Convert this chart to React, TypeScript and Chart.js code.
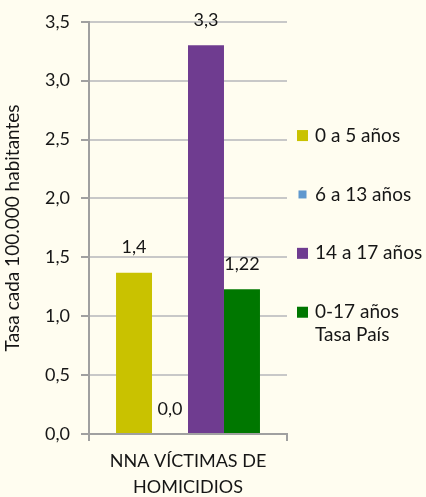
import React, { useEffect, useRef } from "react";
import { Chart, registerables } from "chart.js";

Chart.register(...registerables);

const categoryLines = [["NNA VÍCTIMAS DE", "HOMICIDIOS"]];
const seriesNames = [["0 a 5 años"], ["6 a 13 años"], ["14 a 17 años"], ["0-17 años", "Tasa País"]];
const seriesValues = [1.37, 0, 3.3, 1.23];
const valueLabels = ["1,4", "0,0", "3,3", "1,22"];
const seriesColors = ["#C9C200", "#5F98CE", "#6F3C90", "#007700"];
const yTickValues = [0, 0.5, 1, 1.5, 2, 2.5, 3, 3.5];
const yTitle = "Tasa cada 100.000 habitantes";

const FONT = "Lato, 'Open Sans', sans-serif";
const TEXT = "#161616";

const labelsPlugin = {
  id: "valueLabels",
  afterDatasetsDraw(chart: any) {
    const ctx = chart.ctx;
    ctx.save();
    ctx.font = `18px ${FONT}`;
    ctx.fillStyle = TEXT;
    ctx.textAlign = "center";
    ctx.textBaseline = "middle";
    chart.data.datasets.forEach((ds: any, i: number) => {
      const meta = chart.getDatasetMeta(i);
      meta.data.forEach((bar: any) => {
        ctx.fillText(valueLabels[i], bar.x, bar.y - 25);
      });
    });
    ctx.restore();
  },
};

const legendPlugin = {
  id: "sideLegend",
  afterDraw(chart: any) {
    const ctx = chart.ctx;
    const yScale = chart.scales.y;
    const anchors = [2.5, 2.0, 1.5, 1.0];
    ctx.save();
    ctx.font = `19px ${FONT}`;
    ctx.fillStyle = TEXT;
    ctx.textAlign = "left";
    ctx.textBaseline = "middle";
    seriesNames.forEach((lines, i) => {
      const yc = yScale.getPixelForValue(anchors[i]) - 4;
      const size = i === 1 ? 8 : 11;
      ctx.fillStyle = seriesColors[i];
      ctx.fillRect(302.5 - size / 2, yc - size / 2, size, size);
      ctx.fillStyle = TEXT;
      lines.forEach((t, j) => {
        ctx.fillText(t, 315, yc + j * 23);
      });
    });
    ctx.restore();
  },
};

export default function App() {
  const ref = useRef<HTMLCanvasElement | null>(null);

  useEffect(() => {
    if (!ref.current) return;
    const chart = new Chart(ref.current, {
      type: "bar",
      data: {
        labels: ["c0"],
        datasets: seriesNames.map((n, i) => ({
          label: n.join(" "),
          data: [seriesValues[i]],
          backgroundColor: seriesColors[i],
          borderWidth: 0,
          categoryPercentage: 0.727,
          barPercentage: 1,
        })),
      },
      options: {
        animation: false,
        responsive: false,
        maintainAspectRatio: false,
        layout: { padding: { top: 19, right: 139, bottom: 0, left: 0 } },
        plugins: {
          legend: { display: false },
          tooltip: { enabled: false },
        },
        scales: {
          x: {
            grid: {
              drawOnChartArea: false,
              drawTicks: true,
              tickLength: 7,
              color: "#A0A0A0",
              lineWidth: 2,
            },
            border: { color: "#A0A0A0", width: 2 },
            ticks: {
              font: { family: FONT, size: 18, lineHeight: 1.4 },
              color: TEXT,
              padding: 8,
              callback: (_v: any, i: number) => categoryLines[i],
            },
            afterFit: (s: any) => {
              s.height = 63;
            },
          },
          y: {
            min: 0,
            max: 3.5,
            afterBuildTicks: (s: any) => {
              s.ticks = yTickValues.map((v) => ({ value: v }));
            },
            ticks: {
              font: { family: FONT, size: 18 },
              color: TEXT,
              padding: 11,
              callback: (v: any) => Number(v).toFixed(1).replace(".", ","),
            },
            grid: {
              color: "#C8C8C8",
              lineWidth: 2,
              tickLength: 8,
              tickColor: "#A0A0A0",
            },
            border: { color: "#A0A0A0", width: 2 },
            title: {
              display: true,
              text: yTitle,
              font: { family: FONT, size: 19 },
              color: TEXT,
              padding: { top: 1, bottom: 0 },
            },
            afterFit: (s: any) => {
              s.width = 89;
            },
          },
        },
      },
      plugins: [labelsPlugin, legendPlugin],
    });
    return () => chart.destroy();
  }, []);

  return (
    <div
      style={{
        position: "absolute",
        left: 0,
        top: 0,
        width: 426,
        height: 497,
        background: "#FFFDF0",
      }}
    >
      <canvas ref={ref} width={426} height={497} style={{ display: "block", width: 426, height: 497 }} />
    </div>
  );
}
